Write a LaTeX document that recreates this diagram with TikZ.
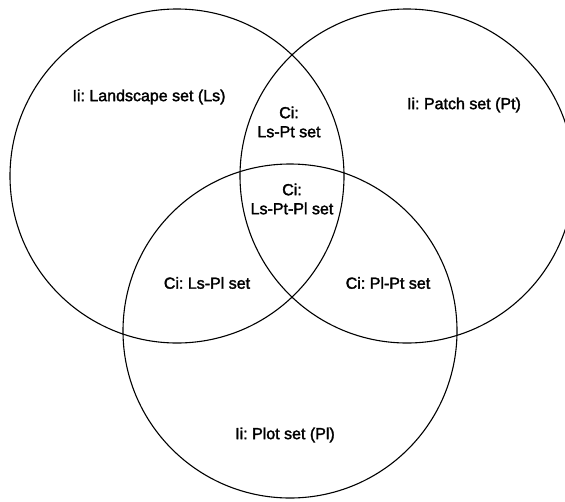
\documentclass[tikz,border=0pt]{standalone}
\usepackage{fontspec}
\setmainfont{Liberation Sans}
\newfontfamily\labelfont{Liberation Sans}[FakeBold=2]
\usepackage{tikz}
\frenchspacing

\tikzset{
  setcircle/.style={circle, draw, line width=1.1pt, minimum size=334pt, inner sep=0pt},
  setlabel/.style={align=center, font=\fontsize{16}{19}\labelfont, inner sep=1pt}
}

\begin{document}
\begin{tikzpicture}[x=1pt,y=-1pt]
                        \useasboundingbox (0,0) rectangle (565,501);
                        \clip (0,0) rectangle (565,501);
                        % Sets
                        \node[setcircle] (ls) at (177,176) {};
                        \node[setcircle] (pt) at (407,176) {};
                        \node[setcircle] (pl) at (290,331) {};

                        % Labels
                        \node[setlabel] (lsname) at (149,97) {Ii: Landscape set (Ls)};
                        \node[setlabel] (ptname) at (464,105) {Ii: Patch set (Pt)};
                        \node[setlabel] (plname) at (285,435) {Ii: Plot set (Pl)};
                        \node[setlabel] (lspt) at (289,122) {Ci:\\Ls-Pt set};
                        \node[setlabel] (lsptpl) at (292,199) {Ci:\\Ls-Pt-Pl set};
                        \node[setlabel] (lspl) at (207,283) {Ci: Ls-Pl set};
                        \node[setlabel] (plpt) at (388,283) {Ci: Pl-Pt set};
                    \end{tikzpicture}
\end{document}
